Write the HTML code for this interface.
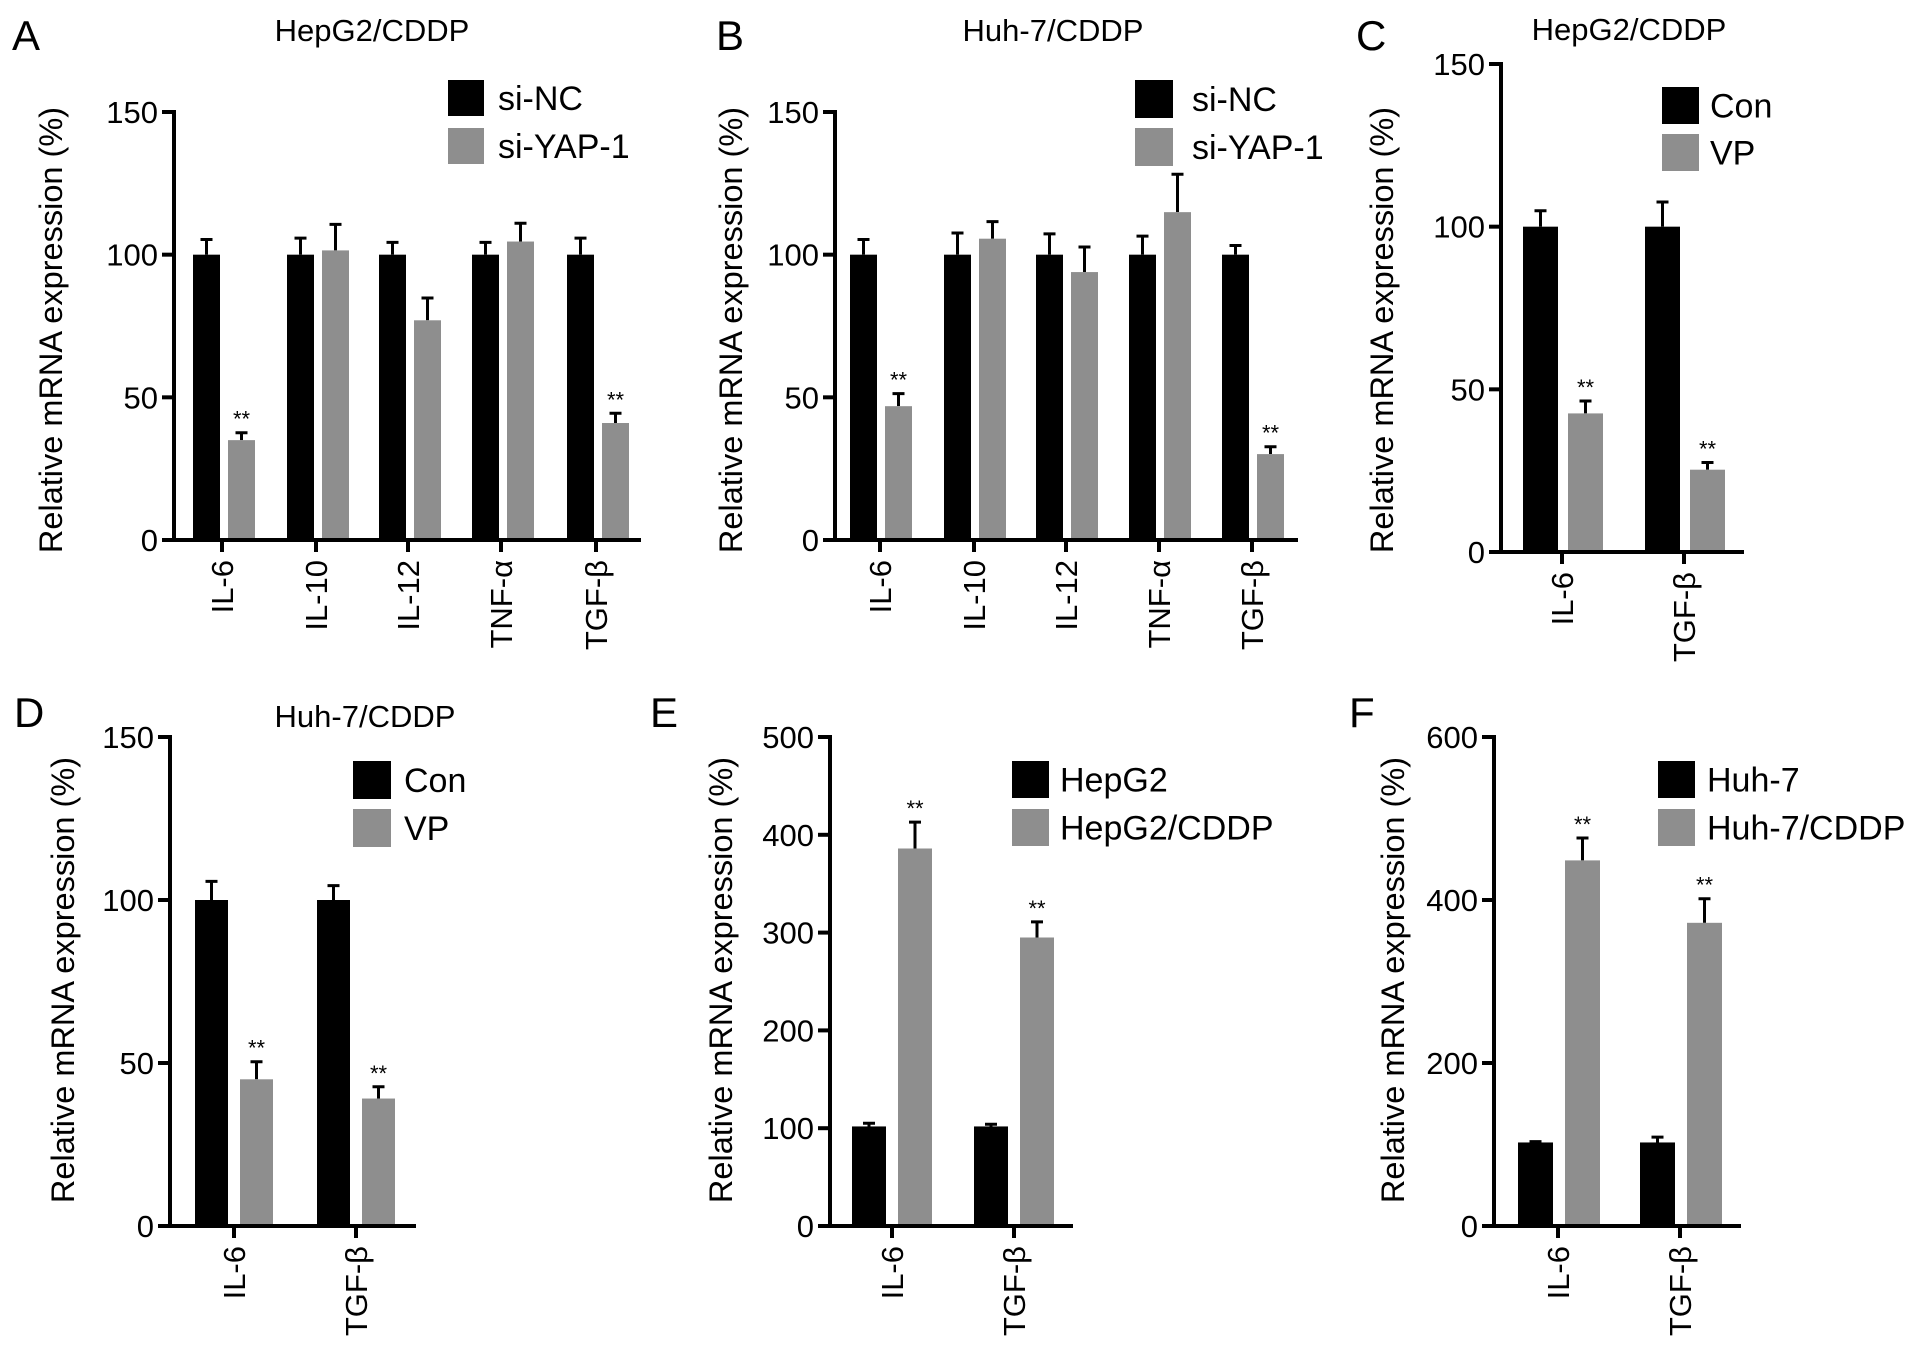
<!DOCTYPE html>
<html><head><meta charset="utf-8"><style>
html,body{margin:0;padding:0;background:#fff;}
svg{display:block;font-family:"Liberation Sans",Arial,sans-serif;}
</style></head><body>
<svg id="fig" width="1913" height="1358" viewBox="0 0 1913 1358" xmlns="http://www.w3.org/2000/svg"></svg>
<script>
// ---- data ----
const catsA = ["IL-6","IL-10","IL-12","TNF-\u03b1","TGF-\u03b2"];
const blackA = [100,100,100,100,100];
const blackErrA = [105.3,105.8,104.3,104.3,105.8];
const grayA = [35,101.5,77,104.6,41];
const grayErrA = [37.6,110.6,84.8,111,44.4];
const starsA = [true,false,false,false,true];

const catsB = ["IL-6","IL-10","IL-12","TNF-\u03b1","TGF-\u03b2"];
const blackB = [100,100,100,100,100];
const blackErrB = [105.3,107.6,107.3,106.5,103.2];
const grayB = [46.9,105.6,93.9,114.9,30.1];
const grayErrB = [51.3,111.6,102.7,128.2,32.7];
const starsB = [true,false,false,false,true];

const catsC = ["IL-6","TGF-\u03b2"];
const blackC = [100,100];
const blackErrC = [104.9,107.6];
const grayC = [42.6,25.3];
const grayErrC = [46.4,27.5];
const starsC = [true,true];

const catsD = ["IL-6","TGF-\u03b2"];
const blackD = [100,100];
const blackErrD = [105.7,104.4];
const grayD = [45,39.1];
const grayErrD = [50.4,42.7];
const starsD = [true,true];

const catsE = ["IL-6","TGF-\u03b2"];
const blackE = [101.8,101.8];
const blackErrE = [105,104];
const grayE = [386,295];
const grayErrE = [413,311];
const starsE = [true,true];

const catsF = ["IL-6","TGF-\u03b2"];
const blackF = [102.5,102.5];
const blackErrF = [103.6,109];
const grayF = [448.6,372];
const grayErrF = [476,401.6];
const starsF = [true,true];

const ticks150 = [0,50,100,150];
const ticks500 = [0,100,200,300,400,500];
const ticks600 = [0,200,400,600];

const NS = "http://www.w3.org/2000/svg";
const svg = document.getElementById("fig");
function mk(tag, attrs, parent){
  const e = document.createElementNS(NS, tag);
  for (const k in attrs) e.setAttribute(k, attrs[k]);
  (parent||svg).appendChild(e);
  return e;
}

function panel(id, L, cats, bV, bE, gV, gE, stars, ticks, legendLabels){
  const g = mk("g", {});
  
  
  const maxV = ticks[ticks.length-1];
  const yS = v => L.y0 - (L.y0 - L.top) * v / maxV;
  const GRAY = "#8e8e8e";

  const letter = mk("text", {x:L.lx, y:L.ly, "font-size":42}, g);
  letter.textContent = id;
  
  

  if (L.title){
    const t = mk("text", {x:L.tx, y:L.ty, "font-size":31, "text-anchor":"middle"}, g);
    t.textContent = L.title;
    
    
  }

  cats.forEach((c, i) => {
    const cx = L.centers[i];
    const bx = cx + L.bOff, gx = cx + L.gOff;
    const ebB = mk("path", {d:`M${bx+L.bw/2},${yS(bV[i])} V${yS(bE[i])} M${bx+L.bw/2-6},${yS(bE[i])} H${bx+L.bw/2+6}`, stroke:"#000", "stroke-width":3, fill:"none"}, g);
    
    
    const ebG = mk("path", {d:`M${gx+L.bw/2},${yS(gV[i])} V${yS(gE[i])} M${gx+L.bw/2-6},${yS(gE[i])} H${gx+L.bw/2+6}`, stroke:"#000", "stroke-width":3, fill:"none"}, g);
    
    
    const rb = mk("rect", {x:bx, y:yS(bV[i]), width:L.bw, height:L.y0 - yS(bV[i]), fill:"#000"}, g);
    
    
    const rg = mk("rect", {x:gx, y:yS(gV[i]), width:L.bw, height:L.y0 - yS(gV[i]), fill:GRAY}, g);
    
    
    if (stars[i]){
      const s = mk("text", {x:gx+L.bw/2, y:yS(gE[i]) - 6, "font-size":22, "text-anchor":"middle"}, g);
      s.textContent = "**";
      
      
    }
    const xt = mk("line", {x1:cx, x2:cx, y1:L.y0, y2:L.y0+12, stroke:"#000", "stroke-width":4}, g);
    
    
    const xl = mk("text", {x:0, y:0, "font-size":31, "text-anchor":"end", transform:`translate(${cx+11},${L.y0+20}) rotate(-90)`}, g);
    xl.textContent = c;
    
    
  });

  const ya = mk("line", {x1:L.ax, x2:L.ax, y1:L.top-2, y2:L.y0+2, stroke:"#000", "stroke-width":4}, g);
  
  
  const xa = mk("line", {x1:L.ax-12, x2:L.right, y1:L.y0, y2:L.y0, stroke:"#000", "stroke-width":4}, g);
  
  
  ticks.forEach(t => {
    const tl = mk("line", {x1:L.ax-12, x2:L.ax, y1:yS(t), y2:yS(t), stroke:"#000", "stroke-width":4}, g);
    
    
    const tt = mk("text", {x:L.ax-16, y:yS(t)+11, "font-size":31, "text-anchor":"end"}, g);
    tt.textContent = t;
    
    
  });
  const yl = mk("text", {x:0, y:0, "font-size":32.5, "text-anchor":"middle", transform:`translate(${L.ylx},${L.yly}) rotate(-90)`}, g);
  yl.textContent = "Relative mRNA expression (%)";
  
  

  const s1 = mk("rect", {x:L.lgx, y:L.lgy1, width:L.lgs, height:L.lgs, fill:"#000"}, g);
  
  
  const s2 = mk("rect", {x:L.lgx, y:L.lgy2, width:L.lgs, height:L.lgs, fill:GRAY}, g);
  
  
  const t1 = mk("text", {x:L.lgtx, y:L.lgy1 + L.lgs/2 + 12, "font-size":L.lgf}, g);
  t1.textContent = legendLabels[0];
  
  
  const t2 = mk("text", {x:L.lgtx, y:L.lgy2 + L.lgs/2 + 12, "font-size":L.lgf}, g);
  t2.textContent = legendLabels[1];
  
  
}

panel("A", {ax:174, top:112, y0:540, right:641, centers:[222,316,408,501,596], bw:27, bOff:-29, gOff:6,
  title:"HepG2/CDDP", tx:372, ty:41, lx:12, ly:50, ylx:62, yly:330,
  lgx:448, lgy1:80, lgy2:128, lgs:36, lgtx:498, lgf:34},
  catsA, blackA, blackErrA, grayA, grayErrA, starsA, ticks150, ["si-NC","si-YAP-1"]);

panel("B", {ax:835, top:112, y0:540, right:1298, centers:[880,974,1066,1159,1252], bw:27, bOff:-30, gOff:5,
  title:"Huh-7/CDDP", tx:1053, ty:41, lx:716, ly:50, ylx:742, yly:330,
  lgx:1135, lgy1:80, lgy2:128, lgs:38, lgtx:1192, lgf:34},
  catsB, blackB, blackErrB, grayB, grayErrB, starsB, ticks150, ["si-NC","si-YAP-1"]);

panel("C", {ax:1501, top:64, y0:552, right:1744, centers:[1562,1684], bw:35, bOff:-39, gOff:6,
  title:"HepG2/CDDP", tx:1629, ty:40, lx:1356, ly:50, ylx:1393, yly:330,
  lgx:1662, lgy1:87, lgy2:134, lgs:37, lgtx:1710, lgf:34},
  catsC, blackC, blackErrC, grayC, grayErrC, starsC, ticks150, ["Con","VP"]);

panel("D", {ax:170, top:737, y0:1226, right:416, centers:[234,356], bw:33, bOff:-39, gOff:6,
  title:"Huh-7/CDDP", tx:365, ty:727, lx:14, ly:727, ylx:74, yly:980,
  lgx:353, lgy1:761, lgy2:809, lgs:38, lgtx:404, lgf:34},
  catsD, blackD, blackErrD, grayD, grayErrD, starsD, ticks150, ["Con","VP"]);

panel("E", {ax:830, top:737, y0:1226, right:1073, centers:[892,1014], bw:34, bOff:-40, gOff:6,
  title:null, lx:650, ly:727, ylx:732, yly:980,
  lgx:1012, lgy1:761, lgy2:809, lgs:37, lgtx:1060, lgf:34},
  catsE, blackE, blackErrE, grayE, grayErrE, starsE, ticks500, ["HepG2","HepG2/CDDP"]);

panel("F", {ax:1494, top:737, y0:1226, right:1741, centers:[1558,1680], bw:35, bOff:-40, gOff:7,
  title:null, lx:1349, ly:727, ylx:1404, yly:980,
  lgx:1658, lgy1:761, lgy2:809, lgs:37, lgtx:1707, lgf:34},
  catsF, blackF, blackErrF, grayF, grayErrF, starsF, ticks600, ["Huh-7","Huh-7/CDDP"]);
</script>
</body></html>
